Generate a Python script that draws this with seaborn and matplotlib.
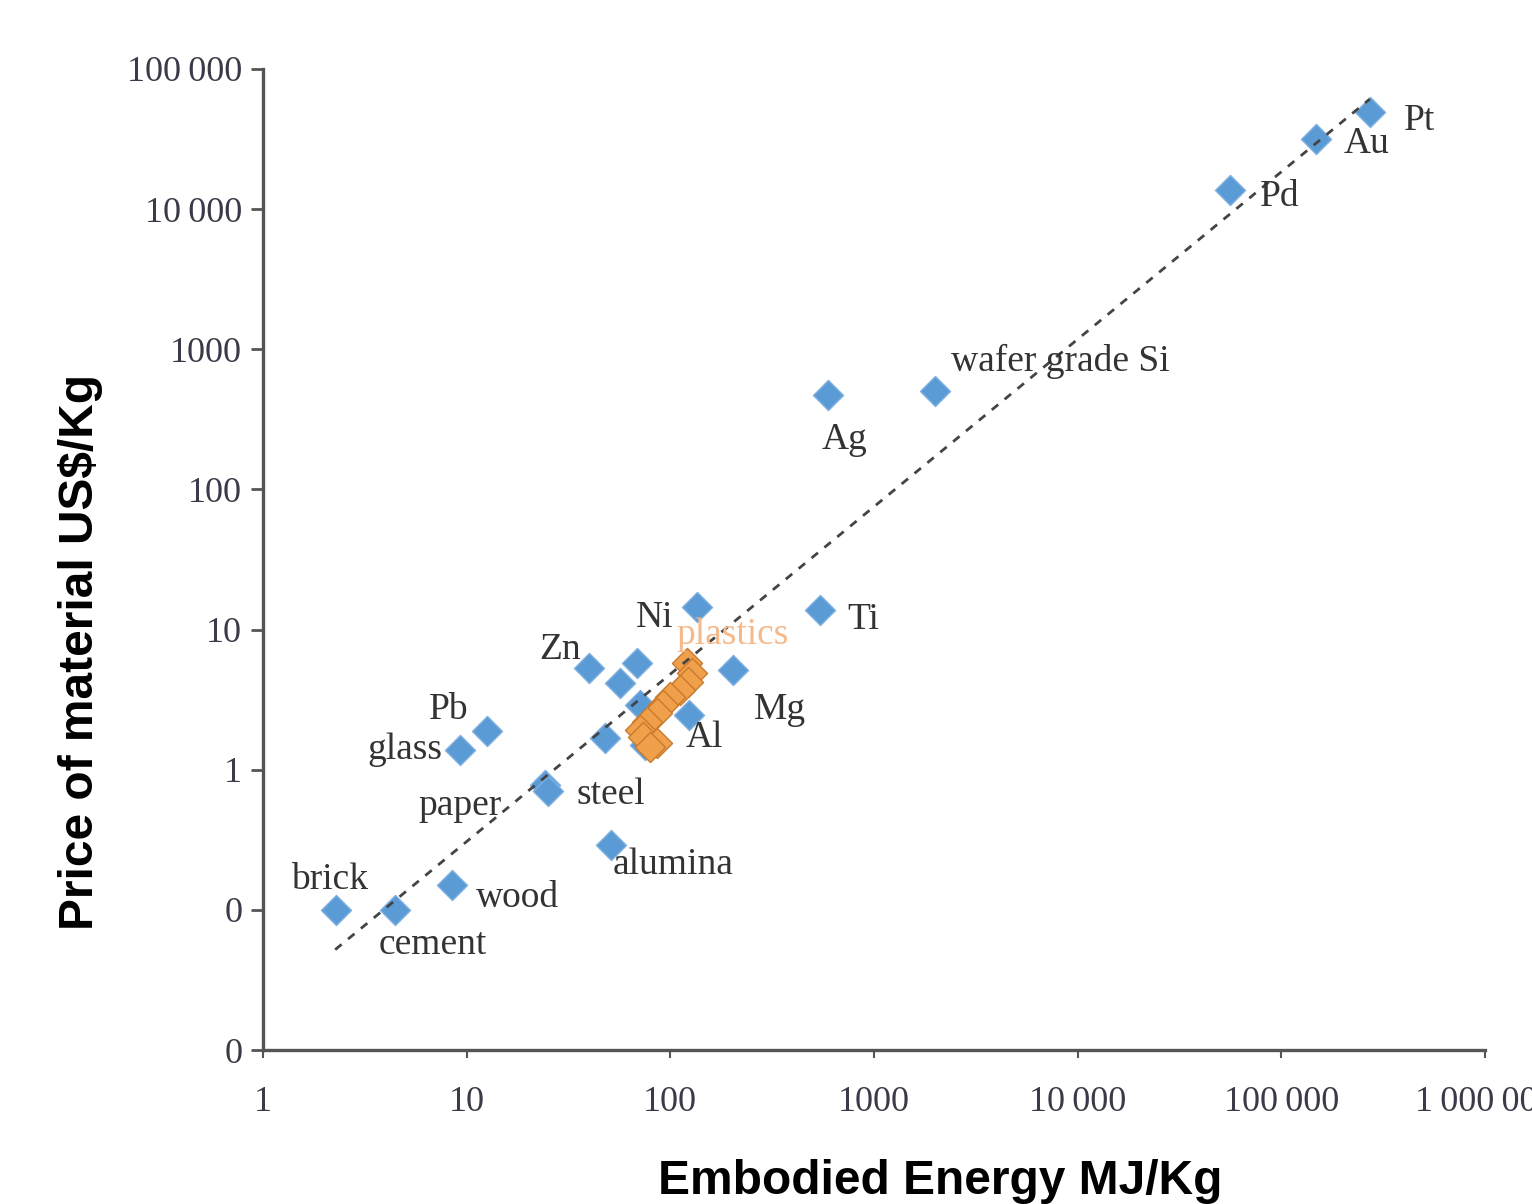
import matplotlib
matplotlib.use("Agg")
import matplotlib.pyplot as plt
import seaborn as sns
import pandas as pd
from matplotlib.ticker import FixedLocator, FixedFormatter, NullLocator

# ---------------- data ----------------
materials = ["brick", "cement", "wood", "glass", "Pb", "paper", "steel", "alumina",
             "Zn", "m1", "m2", "m3", "m4", "m5", "Ni", "Ti", "Mg", "Al",
             "Ag", "wafer grade Si", "Pd", "Au", "Pt"]
energy = [2.28, 4.45, 8.47, 9.27, 12.6, 24.2, 25.0, 51.0,
          40.0, 48.0, 56.6, 68.6, 71.0, 75.0, 135.0, 542.0, 203.0, 124.0,
          594.0, 1990.0, 55800.0, 147600.0, 272000.0]
price = [0.1, 0.1, 0.151, 1.39, 1.9, 0.78, 0.70, 0.29,
         5.35, 1.69, 4.17, 5.81, 2.9, 1.51, 14.6, 13.9, 5.18, 2.47,
         469.0, 501.0, 13670.0, 31600.0, 49300.0]

plastics_energy = [120.6, 127.7, 122.0, 111.0, 99.5, 92.0, 86.0, 76.8, 71.0, 73.4, 86.0, 79.4]
plastics_price = [5.81, 4.93, 4.25, 3.73, 3.32, 2.91, 2.55, 2.2, 1.93, 1.72, 1.56, 1.46]

trend_energy = [2.26, 272000.0]
trend_price = [0.052, 61000.0]

x_ticks = [1, 10, 100, 1000, 10000, 100000, 1000000]
x_ticklabels = ["1", "10", "100", "1000", "10\u2009000", "100\u2009000", "1\u2009000\u2009000"]
y_ticks = [0.01, 0.1, 1, 10, 100, 1000, 10000, 100000]
y_ticklabels = ["0", "0", "1", "10", "100", "1000", "10\u2009000", "100\u2009000"]

# label offsets (layout, in pixels) for named materials
label_offsets = {
    "brick": (-6, 30), "cement": (38, -35), "wood": (65, -13), "glass": (-55, 0),
    "Pb": (-38, 21), "paper": (-85, -21), "steel": (63, -3), "alumina": (62, -20),
    "Zn": (-29, 18), "Ni": (-42, -11), "Ti": (43, -10), "Mg": (47, -40),
    "Al": (15, -23), "Ag": (17, -44), "wafer grade Si": (125, 30),
    "Pd": (50, -7), "Au": (51, -5), "Pt": (50, -9),
}

df_mat = pd.DataFrame({"energy": energy, "price": price, "name": materials})
df_pl = pd.DataFrame({"energy": plastics_energy, "price": plastics_price})

# ---------------- plot ----------------
sns.set_style("white")
plt.rcParams["font.family"] = ["Liberation Serif", "DejaVu Serif"]

fig = plt.figure(figsize=(15.32, 12.04), dpi=100)
ax = fig.add_axes([0.1717, 0.1279, 0.9693 - 0.1717, 0.9427 - 0.1279])

ax.plot(trend_energy, trend_price, linestyle=(0, (3, 3)), color="#444444", lw=2.0, zorder=3)

sns.scatterplot(data=df_mat, x="energy", y="price", ax=ax, marker="D", s=235,
                color="#5b9bd5", edgecolor="#7fb0e0", linewidth=1.0, zorder=2, legend=False)
sns.scatterplot(data=df_pl, x="energy", y="price", ax=ax, marker="D", s=235,
                color="#f0a04b", edgecolor="#c97a2c", linewidth=1.0, zorder=2.5, legend=False)

ax.set_xscale("log")
ax.set_yscale("log")
ax.set_xlim(1, 1000000)
ax.set_ylim(0.01, 100000)

text_color = "#333333"
for name, xv, yv in zip(materials, energy, price):
    if name in label_offsets:
        dx, dy = label_offsets[name]
        ax.annotate(name, xy=(xv, yv), xytext=(dx, dy), textcoords="offset pixels",
                    ha="center", va="center", fontsize=27, color=text_color, zorder=4)

ax.annotate("plastics", xy=(plastics_energy[0], plastics_price[0]), xytext=(46, 28),
            textcoords="offset pixels", ha="center", va="center", fontsize=27,
            color="#f5b98a", zorder=4)

ax.xaxis.set_major_locator(FixedLocator(x_ticks))
ax.xaxis.set_major_formatter(FixedFormatter(x_ticklabels))
ax.yaxis.set_major_locator(FixedLocator(y_ticks))
ax.yaxis.set_major_formatter(FixedFormatter(y_ticklabels))
ax.xaxis.set_minor_locator(NullLocator())
ax.yaxis.set_minor_locator(NullLocator())

for s in ["top", "right"]:
    ax.spines[s].set_visible(False)
for s in ["left", "bottom"]:
    ax.spines[s].set_color("#555555")
    ax.spines[s].set_linewidth(2.4)

ax.tick_params(axis="y", direction="out", length=9, width=2, color="#555555",
               labelsize=26, labelcolor="#3a3a48", pad=6, left=True)
ax.tick_params(axis="x", direction="out", length=6, width=1.5, color="#555555",
               labelsize=26, labelcolor="#3a3a48", pad=20, bottom=True)

ax.set_xlabel("Embodied Energy MJ/Kg", fontsize=34.5, fontweight="bold",
              family=["Liberation Sans", "DejaVu Sans"], color="black")
ax.set_ylabel("Price of material US$/Kg", fontsize=34.5, fontweight="bold",
              family=["Liberation Sans", "DejaVu Sans"], color="black")
ax.xaxis.label.set_va("center")
ax.yaxis.label.set_va("center")
ax.xaxis.set_label_coords((940 - 263) / 1222, (1050 - 1181) / 981)
ax.yaxis.set_label_coords((80 - 263) / 1222, (1050 - 652) / 981)

fig.savefig("out.png", dpi=100, facecolor="white")
